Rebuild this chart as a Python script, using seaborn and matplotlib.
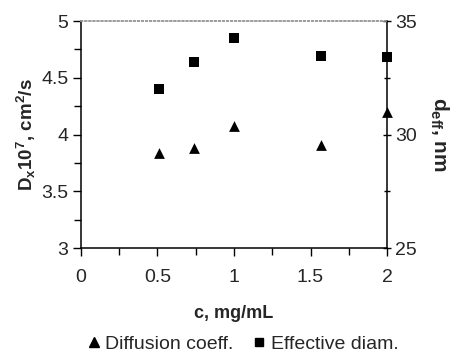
import numpy as np
import pandas as pd
import seaborn as sns
import matplotlib
matplotlib.use("Agg")
import matplotlib.pyplot as plt
from matplotlib.lines import Line2D

# values
conc = [0.51, 0.74, 1.0, 1.57, 2.0]
diff_coeff = [3.84, 3.88, 4.08, 3.91, 4.20]
eff_diam = [32.0, 33.2, 34.25, 33.45, 33.4]

sns.set_style("ticks")
plt.rcParams["font.family"] = ["Liberation Sans", "DejaVu Sans"]
plt.rcParams["mathtext.fontset"] = "custom"
plt.rcParams["mathtext.rm"] = "Liberation Sans:bold"
plt.rcParams["mathtext.bf"] = "Liberation Sans:bold"
plt.rcParams["mathtext.default"] = "bf"

df = pd.DataFrame({"c": conc, "D": diff_coeff, "d": eff_diam})

fig = plt.figure(figsize=(4.57, 3.58), dpi=100)
ax = fig.add_axes([0.177, 0.307, 0.67, 0.634])
ax2 = ax.twinx()

sns.scatterplot(data=df, x="c", y="D", marker="^", color="black", s=60,
                edgecolor="black", linewidth=0, ax=ax, clip_on=False, zorder=5)
sns.scatterplot(data=df, x="c", y="d", marker="s", color="black", s=55,
                edgecolor="black", linewidth=0, ax=ax2, clip_on=False, zorder=5)

ax.set_xlim(0, 2)
ax.set_ylim(3, 5)
ax2.set_ylim(25, 35)
ax.set_xticks([0, 0.5, 1, 1.5, 2])
ax.set_xticklabels(["0", "0.5", "1", "1.5", "2"])
ax.set_xticks(np.arange(0, 2.01, 0.25), minor=True)
ax.set_yticks([3, 3.5, 4, 4.5, 5])
ax.set_yticklabels(["3", "3.5", "4", "4.5", "5"])
ax.set_yticks(np.arange(3, 5.01, 0.25), minor=True)
ax2.set_yticks([25, 30, 35])
ax2.set_yticks(np.arange(25, 35.1, 2.5), minor=True)

for a in (ax, ax2):
    a.tick_params(which="major", length=6, width=1, labelsize=14, color="black")
    a.tick_params(which="minor", length=5, width=1, color="black")
    for sp in a.spines.values():
        sp.set_linewidth(1.1)
        sp.set_color("black")
    a.spines["top"].set_linestyle(":")
    a.spines["top"].set_color("#999999")
ax.tick_params(axis="x", which="both", direction="out", pad=9)
ax.tick_params(axis="y", which="both", direction="out", pad=3)
ax2.tick_params(axis="y", which="both", direction="inout", pad=3)
ax.spines["right"].set_visible(False)
ax2.spines["left"].set_visible(False)
ax2.spines["bottom"].set_visible(False)

ax.set_xlabel("c, mg/mL", fontsize=13, fontweight="bold", labelpad=14)
ax.set_ylabel(r"D$_x$10$^7$, cm$^2$/s", fontsize=13.5, fontweight="bold", labelpad=2)
ax2.set_ylabel(r"d$_{eff}$, nm", fontsize=15, fontweight="bold", rotation=270, labelpad=24)

handles = [
    Line2D([], [], marker="^", color="black", linestyle="none", markersize=7),
    Line2D([], [], marker="s", color="black", linestyle="none", markersize=6),
]
fig.legend(handles, ["Diffusion coeff.", "Effective diam."], loc="lower center",
           bbox_to_anchor=(0.53, -0.035), ncol=2, frameon=False, fontsize=14,
           handletextpad=0.2, columnspacing=0.9, handlelength=0.8)

fig.savefig("out.png", dpi=100)
